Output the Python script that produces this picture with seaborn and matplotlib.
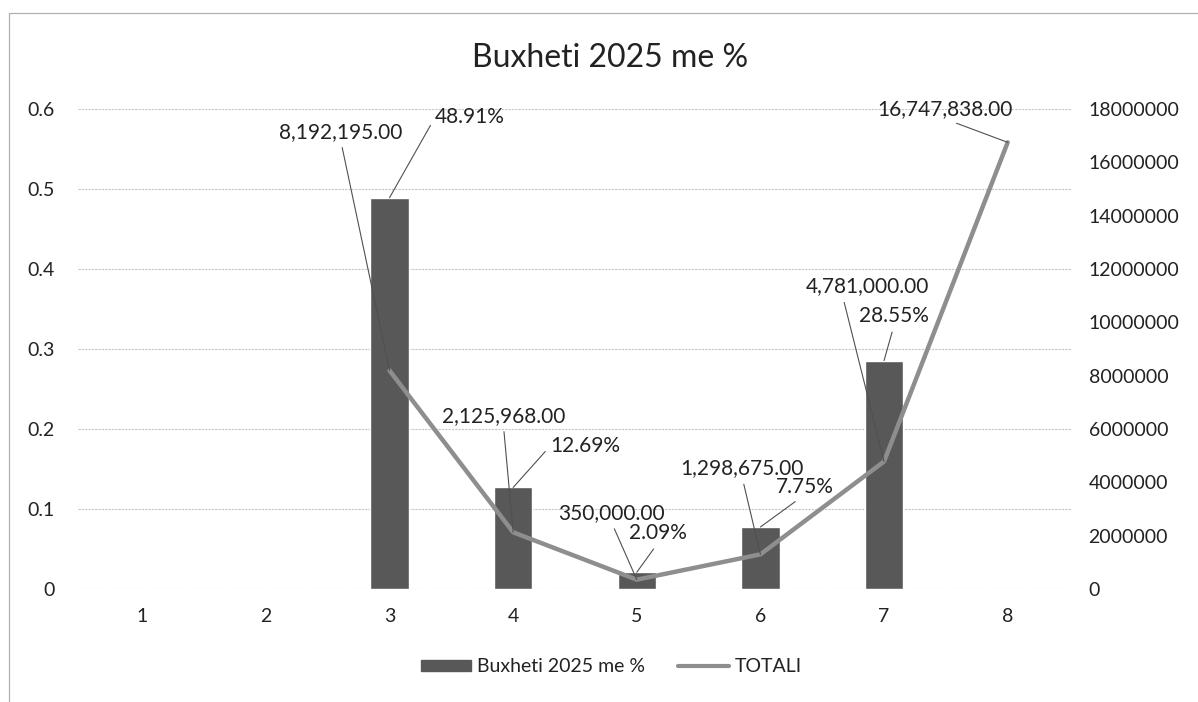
import numpy as np
import pandas as pd
import matplotlib
matplotlib.use("Agg")
import matplotlib.pyplot as plt
import seaborn as sns
from matplotlib.lines import Line2D
from matplotlib.patches import Patch

# chart data
categories = [1, 2, 3, 4, 5, 6, 7, 8]
pct_values = [np.nan, np.nan, 0.4891, 0.1269, 0.0209, 0.0775, 0.2855, np.nan]
totali_values = [np.nan, np.nan, 8192195.00, 2125968.00, 350000.00, 1298675.00, 4781000.00, 16747838.00]
left_ticks = [0, 0.1, 0.2, 0.3, 0.4, 0.5, 0.6]
right_ticks = [0, 2000000, 4000000, 6000000, 8000000, 10000000, 12000000, 14000000, 16000000, 18000000]
title = "Buxheti 2025 me %"
bar_name = "Buxheti 2025 me %"
line_name = "TOTALI"

# label offsets in points (text centre relative to the data point) and where the leader leaves the text
pct_offsets = {3: (58, 58), 4: (52, 30), 5: (15, 28), 6: (32, 29), 7: (7, 32)}
pct_relpos = {3: (0, 0.5), 4: (0, 0.5), 5: (0.5, 0), 6: (0.45, 0), 7: (0.5, 0)}
tot_offsets = {3: (-35, 172), 4: (-7, 84), 5: (-18, 48), 6: (-13, 62), 7: (-12, 126), 8: (-45, 24)}
tot_relpos = {3: (0.5, 0), 4: (0.5, 0), 5: (0.5, 0), 6: (0.5, 0), 7: (0.3, 0), 8: (0.5, 0)}

df = pd.DataFrame({"cat": categories, "pct": pct_values, "totali": totali_values})

sns.set_theme(style="white")
plt.rcParams["font.family"] = ["Lato", "DejaVu Sans"]

bar_color = "#585858"
line_color = "#8e8e8e"
text_color = "#222222"

fig = plt.figure(figsize=(11.98, 7.02), dpi=100)
ax = fig.add_axes([0.0651, 0.161, 0.8297, 0.6838])

bars = df.dropna(subset=["pct"])
sns.barplot(data=bars, x="cat", y="pct", native_scale=True, width=0.31,
            color=bar_color, saturation=1, ax=ax, zorder=2)

ax.set_xlim(0.48, 8.52)
ax.set_ylim(0, 0.6)
ax.set_xticks(categories)
ax.set_xticklabels([str(c) for c in categories])
ax.set_yticks(left_ticks)
ax.set_yticklabels(["0" if t == 0 else f"{t:g}" for t in left_ticks])
ax.set_xlabel("")
ax.set_ylabel("")
ax.grid(axis="y", color="#c6c6c6", linewidth=0.8, linestyle=(0, (2, 1)), zorder=0)
ax.grid(axis="x", visible=False)
for s in ax.spines.values():
    s.set_visible(False)
ax.tick_params(axis="y", length=0, pad=17, labelsize=14, labelcolor=text_color)
ax.tick_params(axis="x", length=0, pad=14, labelsize=14, labelcolor=text_color)

ax2 = ax.twinx()
sns.lineplot(data=df.dropna(subset=["totali"]), x="cat", y="totali", ax=ax2,
             color=line_color, linewidth=3.2, zorder=3)
ax2.set_ylim(0, 18000000)
ax2.set_yticks(right_ticks)
ax2.set_yticklabels([str(t) for t in right_ticks])
ax2.set_ylabel("")
ax2.set_xlabel("")
for s in ax2.spines.values():
    s.set_visible(False)
ax2.tick_params(axis="y", length=0, pad=12, labelsize=14, labelcolor=text_color)
ax2.set_xlim(0.48, 8.52)


def leader(relpos):
    return dict(arrowstyle="-", color="#505050", lw=0.8, shrinkA=2, shrinkB=0, relpos=relpos)


for c, v in zip(categories, pct_values):
    if np.isnan(v):
        continue
    ax.annotate(f"{v * 100:.2f}%", xy=(c, v), xytext=pct_offsets[c],
                textcoords="offset points", ha="center", va="center",
                fontsize=15, color=text_color, arrowprops=leader(pct_relpos[c]), zorder=5)

for c, v in zip(categories, totali_values):
    if np.isnan(v):
        continue
    ax2.annotate(f"{v:,.2f}", xy=(c, v), xytext=tot_offsets[c],
                 textcoords="offset points", ha="center", va="center",
                 fontsize=15, color=text_color, arrowprops=leader(tot_relpos[c]), zorder=5)

fig.text(610 / 1198, 1 - 58 / 702, title, ha="center", va="center",
         fontsize=23, color=text_color)

handles = [Patch(facecolor=bar_color, edgecolor=bar_color),
           Line2D([0], [0], color=line_color, linewidth=3.0)]
fig.legend(handles, [bar_name, line_name], loc="center",
           bbox_to_anchor=(611 / 1198, 1 - 667 / 702), ncol=2, frameon=False,
           fontsize=14, labelcolor=text_color, handlelength=2.6, handleheight=0.45,
           columnspacing=1.7, handletextpad=0.3)

# outer chart border (only top and left visible in the scan)
fig.add_artist(Line2D([9 / 1198, 1.0], [1 - 13 / 702] * 2, color="#b0b0b0", lw=0.9))
fig.add_artist(Line2D([9 / 1198] * 2, [0.0, 1 - 13 / 702], color="#b0b0b0", lw=0.9))

fig.savefig("out.png", dpi=100, facecolor="white")
